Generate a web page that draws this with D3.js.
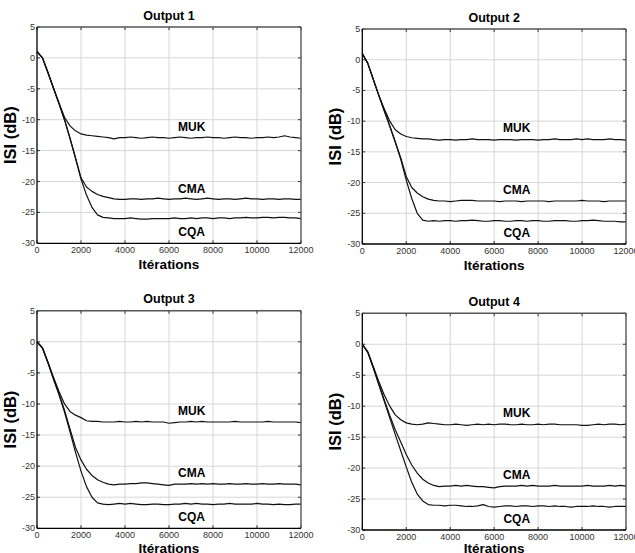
<!DOCTYPE html>
<html>
<head>
<meta charset="utf-8">
<script src="https://cdn.jsdelivr.net/npm/d3@7"></script>
<style>
  body { margin: 0; background: #fff; }
  text { font-family: "Liberation Sans", Arial, sans-serif; }
</style>
</head>
<body>
<svg id="fig" width="635" height="553"></svg>
<script>
// iteration index shared by every curve
const iterations = [0, 250, 500, 750, 1000, 1250, 1500, 1750, 2000, 2250, 2500, 2750,
  3000, 3250, 3500, 3750, 4000, 4250, 4500, 4750, 5000, 5250, 5500, 5750,
  6000, 6250, 6500, 6750, 7000, 7250, 7500, 7750, 8000, 8250, 8500, 8750,
  9000, 9250, 9500, 9750, 10000, 10250, 10500, 10750, 11000, 11250, 11500, 11750, 12000];

const xTicks = [0, 2000, 4000, 6000, 8000, 10000, 12000];
const yTicks = [5, 0, -5, -10, -15, -20, -25, -30];
const titles = ["Output 1", "Output 2", "Output 3", "Output 4"];
const seriesNames = ["MUK", "CMA", "CQA"];
const labelIter = 7030;
const labelIsi = [-11.1, -21.1, -28.1];

// ISI (dB)
const muk1 = [1.0, 0.0, -2.4, -4.9, -7.3, -9.6, -11.0, -11.8, -12.3, -12.5, -12.6, -12.7,
  -12.8, -12.9, -13.1, -12.9, -12.9, -12.8, -12.9, -13.0, -12.9, -12.8, -12.9, -12.9,
  -13.0, -12.9, -12.8, -12.9, -13.0, -12.9, -12.9, -12.8, -12.9, -12.9, -13.0, -12.9,
  -12.8, -12.9, -12.9, -13.0, -12.9, -12.9, -12.8, -12.9, -12.8, -12.6, -12.8, -12.9, -13.0];
const cma1 = [1.0, 0.0, -2.4, -4.9, -7.4, -10.0, -13.0, -16.2, -19.4, -20.9, -21.6, -22.1,
  -22.4, -22.6, -22.8, -22.9, -22.9, -22.8, -22.8, -22.9, -22.8, -22.8, -22.7, -22.8,
  -22.9, -22.8, -22.8, -22.7, -22.8, -22.9, -22.8, -22.7, -22.8, -22.9, -22.8, -22.8,
  -22.9, -22.8, -22.7, -22.8, -22.8, -22.9, -22.8, -22.8, -22.9, -22.8, -22.8, -22.9, -22.9];
const cqa1 = [1.0, 0.0, -2.4, -4.9, -7.4, -10.0, -13.0, -16.2, -19.6, -22.2, -24.2, -25.4,
  -25.8, -25.9, -26.0, -26.0, -26.0, -25.9, -26.0, -26.1, -26.1, -26.0, -26.0, -26.0,
  -26.0, -25.9, -26.0, -26.0, -25.9, -26.0, -25.9, -25.9, -26.0, -25.9, -25.9, -26.0,
  -25.9, -25.9, -25.8, -25.9, -25.9, -25.8, -25.8, -25.9, -25.8, -25.8, -25.9, -25.9, -26.0];

const muk2 = [1.0, -0.6, -3.2, -5.8, -8.0, -10.0, -11.4, -12.1, -12.5, -12.7, -12.8, -12.9,
  -12.9, -13.0, -13.1, -13.0, -13.0, -13.1, -13.0, -13.0, -12.9, -13.0, -13.0, -13.0,
  -13.1, -13.0, -13.0, -13.0, -13.1, -13.0, -13.0, -13.0, -13.1, -13.0, -13.0, -12.9,
  -13.0, -13.0, -13.0, -12.9, -13.0, -12.9, -13.0, -13.0, -13.0, -12.9, -13.0, -13.0, -13.1];
const cma2 = [1.0, -0.6, -3.2, -5.8, -8.3, -10.8, -13.4, -16.0, -19.0, -20.8, -21.7, -22.3,
  -22.7, -22.9, -23.0, -23.0, -23.1, -23.0, -22.9, -22.9, -22.9, -23.0, -23.0, -23.0,
  -23.0, -23.1, -23.0, -23.0, -23.0, -23.1, -23.0, -23.0, -23.0, -23.0, -23.1, -23.0,
  -23.0, -23.0, -23.0, -23.0, -22.9, -23.0, -23.0, -23.0, -23.1, -23.0, -23.0, -23.0, -23.0];
const cqa2 = [1.0, -0.6, -3.2, -5.8, -8.3, -10.8, -13.4, -16.2, -19.6, -22.6, -25.0, -26.1,
  -26.3, -26.2, -26.3, -26.2, -26.2, -26.3, -26.2, -26.2, -26.1, -26.2, -26.3, -26.3,
  -26.2, -26.2, -26.3, -26.3, -26.2, -26.2, -26.3, -26.2, -26.2, -26.3, -26.3, -26.2,
  -26.2, -26.2, -26.3, -26.3, -26.2, -26.2, -26.1, -26.2, -26.3, -26.3, -26.3, -26.4, -26.4];

const muk3 = [0.0, -1.0, -3.3, -5.7, -8.0, -10.0, -11.2, -11.8, -12.2, -12.7, -12.8, -12.8,
  -12.9, -12.9, -12.9, -12.8, -12.9, -12.9, -12.8, -12.9, -12.8, -12.9, -12.9, -12.9,
  -13.1, -13.0, -12.9, -12.9, -12.8, -12.9, -12.8, -12.9, -12.9, -12.9, -12.9, -12.9,
  -12.8, -12.9, -12.9, -12.9, -12.9, -12.9, -12.8, -12.9, -12.9, -12.9, -12.9, -12.9, -13.0];
const cma3 = [0.0, -1.0, -3.4, -6.0, -8.4, -11.0, -14.0, -17.0, -19.0, -20.5, -21.5, -22.2,
  -22.6, -22.9, -23.0, -22.9, -22.9, -22.8, -22.8, -22.7, -22.7, -22.8, -22.9, -23.0,
  -23.1, -22.9, -22.9, -22.9, -22.8, -22.9, -22.8, -22.9, -22.8, -22.9, -22.9, -22.8,
  -22.9, -22.9, -22.8, -22.9, -22.9, -22.8, -22.9, -22.9, -22.8, -22.9, -22.9, -22.9, -23.0];
const cqa3 = [0.0, -1.0, -3.4, -6.0, -8.5, -11.3, -14.5, -17.8, -20.8, -23.3, -25.0, -25.9,
  -26.1, -26.2, -26.1, -26.0, -26.1, -26.0, -26.1, -26.2, -26.2, -26.1, -26.1, -26.2,
  -26.2, -26.1, -26.1, -26.0, -26.1, -26.0, -26.1, -26.1, -26.2, -26.1, -26.1, -26.0,
  -26.1, -26.1, -26.1, -26.1, -26.0, -26.1, -26.1, -26.2, -26.1, -26.2, -26.2, -26.1, -26.1];

const muk4 = [0.0, -1.2, -3.6, -6.0, -8.2, -10.0, -11.4, -12.2, -12.7, -12.9, -13.0, -12.9,
  -12.7, -12.8, -12.9, -13.0, -13.0, -12.9, -13.0, -13.1, -13.0, -12.9, -13.0, -12.9,
  -13.0, -12.9, -12.9, -13.0, -13.0, -12.9, -13.0, -13.0, -12.9, -13.0, -12.9, -12.9,
  -13.0, -13.0, -13.0, -13.0, -13.1, -13.1, -13.0, -12.9, -13.0, -12.9, -12.9, -13.0, -12.9];
const cma4 = [0.0, -1.3, -3.8, -6.4, -9.0, -11.5, -13.8, -15.8, -17.8, -19.5, -20.8, -21.8,
  -22.4, -22.8, -23.0, -22.9, -22.9, -22.8, -22.9, -22.8, -22.9, -23.0, -23.0, -23.1,
  -23.2, -23.0, -22.9, -22.9, -22.9, -22.8, -22.9, -22.8, -22.9, -22.9, -22.9, -22.8,
  -22.9, -22.9, -22.9, -22.9, -22.9, -22.8, -22.9, -22.9, -22.9, -22.8, -22.9, -22.8, -22.9];
const cqa4 = [0.0, -1.3, -3.8, -6.5, -9.2, -11.9, -14.6, -17.2, -19.8, -22.3, -24.2, -25.3,
  -25.9, -26.0, -26.0, -26.1, -26.0, -26.0, -26.1, -26.2, -26.2, -26.1, -25.9, -26.2,
  -26.3, -26.2, -26.1, -26.1, -26.2, -26.1, -26.1, -26.2, -26.1, -26.1, -26.2, -26.1,
  -26.2, -26.2, -26.3, -26.2, -26.2, -26.2, -26.1, -26.2, -26.2, -26.3, -26.2, -26.2, -26.2];

const outputs = [[muk1, cma1, cqa1], [muk2, cma2, cqa2], [muk3, cma3, cqa3], [muk4, cma4, cqa4]];

// plot frames (pixels) for the 2x2 grid
const frames = [
  {l: 37, r: 301, t: 27, b: 243.3},
  {l: 362.3, r: 626, t: 29, b: 244},
  {l: 37, r: 301, t: 310.7, b: 528.3},
  {l: 362.3, r: 626, t: 313.3, b: 530}
];

const svg = d3.select("#fig");

frames.forEach((f, k) => {

  let x = d3.scaleLinear().domain([0, 12000]).range([f.l, f.r]),
      y = d3.scaleLinear().domain([-30, 5]).range([f.b, f.t]),
      g = svg.append("g").attr("class", "panel");

  // grid
  g.append("g").selectAll("line")
    .data(xTicks.slice(1, -1))
    .join("line")
    .attr("x1", d => x(d)).attr("x2", d => x(d))
    .attr("y1", f.t).attr("y2", f.b)
    .attr("stroke", "#d6d6d6").attr("stroke-width", 1);
  g.append("g").selectAll("line")
    .data(yTicks.slice(1, -1))
    .join("line")
    .attr("y1", d => y(d)).attr("y2", d => y(d))
    .attr("x1", f.l).attr("x2", f.r)
    .attr("stroke", "#d6d6d6").attr("stroke-width", 1);

  // curves
  let line = d3.line()
    .x((d, i) => x(iterations[i]))
    .y(d => y(d));
  g.append("g").selectAll("path")
    .data(outputs[k])
    .join("path")
    .attr("d", line)
    .attr("fill", "none")
    .attr("stroke", "#111")
    .attr("stroke-width", 1.2)
    .attr("stroke-linejoin", "round");

  // inward ticks on all sides
  let tk = g.append("g").attr("stroke", "#333").attr("stroke-width", 1);
  xTicks.forEach(v => {
    tk.append("line").attr("x1", x(v)).attr("x2", x(v)).attr("y1", f.b).attr("y2", f.b - 3);
    tk.append("line").attr("x1", x(v)).attr("x2", x(v)).attr("y1", f.t).attr("y2", f.t + 3);
  });
  yTicks.forEach(v => {
    tk.append("line").attr("y1", y(v)).attr("y2", y(v)).attr("x1", f.l).attr("x2", f.l + 3);
    tk.append("line").attr("y1", y(v)).attr("y2", y(v)).attr("x1", f.r).attr("x2", f.r - 3);
  });

  // box
  g.append("line").attr("x1", f.l).attr("x2", f.r).attr("y1", f.t).attr("y2", f.t)
    .attr("stroke", "#555").attr("stroke-width", 1.4);
  g.append("line").attr("x1", f.r).attr("x2", f.r).attr("y1", f.t).attr("y2", f.b)
    .attr("stroke", "#555").attr("stroke-width", 1.4);
  g.append("line").attr("x1", f.l).attr("x2", f.l).attr("y1", f.t).attr("y2", f.b)
    .attr("stroke", "#000").attr("stroke-width", 1.3);
  g.append("line").attr("x1", f.l).attr("x2", f.r).attr("y1", f.b).attr("y2", f.b)
    .attr("stroke", "#000").attr("stroke-width", 1.3);

  // tick labels
  g.append("g").selectAll("text")
    .data(xTicks)
    .join("text")
    .attr("x", d => x(d))
    .attr("y", f.b + 9.8)
    .attr("text-anchor", "middle")
    .attr("font-size", 9)
    .attr("fill", "#333")
    .text(d => d);
  g.append("g").selectAll("text")
    .data(yTicks)
    .join("text")
    .attr("x", f.l - 2)
    .attr("y", d => y(d) + 3)
    .attr("text-anchor", "end")
    .attr("font-size", 9)
    .attr("fill", "#333")
    .text(d => d);

  // titles
  let cx = (f.l + f.r) / 2;
  g.append("text")
    .attr("x", cx).attr("y", f.t - 7.5)
    .attr("text-anchor", "middle")
    .attr("font-size", 12.5).attr("font-weight", "bold")
    .text(titles[k]);
  g.append("text")
    .attr("x", cx).attr("y", Math.min(f.b + 25.5, 552.5))
    .attr("text-anchor", "middle")
    .attr("font-size", 13.5).attr("font-weight", "bold")
    .text("Itérations");
  g.append("text")
    .attr("transform", `translate(${f.l - 21},${(f.t + f.b) / 2}) rotate(-90)`)
    .attr("text-anchor", "middle")
    .attr("font-size", 16.5).attr("font-weight", "bold")
    .text("ISI (dB)");

  // curve names
  g.append("g").selectAll("text")
    .data(seriesNames)
    .join("text")
    .attr("x", x(labelIter))
    .attr("y", (d, i) => y(labelIsi[i]))
    .attr("dy", "0.36em")
    .attr("text-anchor", "middle")
    .attr("font-size", 12).attr("font-weight", "bold")
    .text(d => d);
});
</script>
</body>
</html>
